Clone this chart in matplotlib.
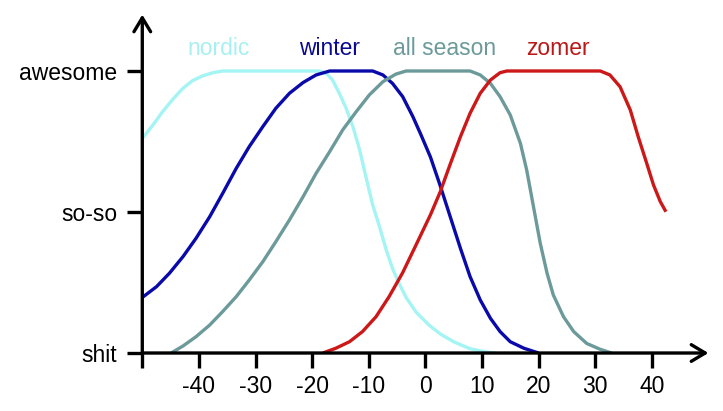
import numpy as np
import matplotlib
matplotlib.use('Agg')
import matplotlib.pyplot as plt

plt.rcParams['font.family'] = ['Liberation Sans', 'DejaVu Sans']
plt.rcParams['axes.unicode_minus'] = False

# curves (temperature, rating 0=shit .. 1=awesome)
nordic_x = [-50, -48.1, -46.4, -44.6, -42.8, -41.1, -39.3, -37.5, -35.8, -18.7, -17.5,
            -16.4, -15.2, -14.0, -12.8, -11.6, -10.5, -9.3, -8.1, -6.9, -5.8, -4.6,
            -3.4, -1.6, 0.6, 2.6, 5.0, 7.9, 10.9, 12.4]
nordic_y = [0.761, 0.809, 0.856, 0.900, 0.939, 0.966, 0.983, 0.994, 1.0, 1.0, 0.992,
            0.968, 0.921, 0.868, 0.803, 0.72, 0.625, 0.525, 0.448, 0.365, 0.300, 0.245,
            0.197, 0.144, 0.10, 0.068, 0.04, 0.015, 0.003, 0.0]

winter_x = [-50, -47.5, -45.2, -42.8, -40.5, -38.1, -35.8, -33.4, -31.1, -28.7, -26.4,
            -24.0, -21.6, -19.3, -16.9, -9.3, -7.5, -5.8, -4.0, -2.2, -0.8, 0.9, 2.6,
            4.4, 6.2, 7.9, 9.7, 11.5, 13.2, 15.0, 17.4, 20.0]
winter_y = [0.197, 0.235, 0.283, 0.342, 0.407, 0.483, 0.566, 0.655, 0.732, 0.803, 0.868,
            0.921, 0.959, 0.986, 1.0, 1.0, 0.986, 0.956, 0.909, 0.838, 0.775, 0.695, 0.595,
            0.483, 0.371, 0.271, 0.188, 0.123, 0.076, 0.040, 0.017, 0.0]

allseason_x = [-44.9, -42.8, -40.5, -38.1, -35.8, -33.4, -31.1, -28.7, -26.4, -24.0, -21.6,
               -19.3, -16.9, -14.6, -12.2, -9.9, -7.5, -5.2, -3.4, 7.9, 9.7, 11.5, 13.2,
               15.0, 16.8, 17.9, 19.1, 20.3, 21.5, 22.6, 24.4, 26.2, 28.5, 30.9, 32.9]
allseason_y = [0.0, 0.025, 0.058, 0.099, 0.147, 0.2, 0.259, 0.324, 0.395, 0.472, 0.554,
               0.637, 0.714, 0.791, 0.856, 0.915, 0.962, 0.989, 1.0, 1.0, 0.986, 0.956, 0.909,
               0.844, 0.743, 0.649, 0.519, 0.389, 0.283, 0.206, 0.129, 0.076, 0.034, 0.013, 0.0]

zomer_x = [-18.1, -15.8, -13.4, -11.1, -8.7, -6.4, -4.0, -1.6, 0.9, 2.6, 4.4, 6.2, 7.9,
           9.7, 11.5, 13.2, 14.4, 30.9, 32.6, 34.4, 36.2, 37.6, 39.1, 40.3, 41.5, 42.5]
zomer_y = [0.0, 0.017, 0.04, 0.076, 0.129, 0.2, 0.285, 0.385, 0.49, 0.57, 0.67, 0.767,
           0.85, 0.921, 0.968, 0.994, 1.0, 1.0, 0.986, 0.944, 0.862, 0.767, 0.673, 0.596,
           0.537, 0.501]

series = ['nordic', 'winter', 'all season', 'zomer']
label_x = [-36.5, -16.9, 3.35, 23.4]
colors = ['#a4f4f4', '#0a0aaa', '#6c9a9a', '#cc1818']
label_colors = ['#a8f0f0', '#0a0a90', '#6c9a9a', '#bb1818']

xticks = [-50, -40, -30, -20, -10, 0, 10, 20, 30, 40]
xticklabels = ['', '-40', '-30', '-20', '-10', '0', '10', '20', '30', '40']
yticks = [0, 0.5, 1]
yticklabels = ['shit', 'so-so', 'awesome']

fig = plt.figure(figsize=(7.23, 4.11), dpi=100)
ax = fig.add_axes([0.1968, 0.1411, 0.783, 0.8234])

data = [(nordic_x, nordic_y), (winter_x, winter_y),
        (allseason_x, allseason_y), (zomer_x, zomer_y)]
for (xs, ys), c in zip(data, colors):
    ax.plot(xs, ys, color=c, lw=2.4, solid_capstyle='butt', solid_joinstyle='round')

for name, lx, c in zip(series, label_x, label_colors):
    ax.text(lx, 1.08, name, color=c, fontsize=16.5, ha='center', va='center')

ax.set_xlim(-50, 50)
ax.set_ylim(0, 1.2)
for s in ax.spines.values():
    s.set_visible(False)

arrow = dict(arrowstyle='->, head_length=0.5, head_width=0.3', lw=2.4,
             color='black', mutation_scale=20, shrinkA=0, shrinkB=0)
ax.annotate('', xy=(50, 0), xytext=(-50, 0), arrowprops=arrow, annotation_clip=False)
ax.annotate('', xy=(-50, 1.2), xytext=(-50, 0), arrowprops=arrow, annotation_clip=False)

ax.set_xticks(xticks)
ax.set_xticklabels(xticklabels)
ax.set_yticks(yticks)
ax.set_yticklabels(yticklabels)
ax.tick_params(axis='both', direction='out', length=11, width=2.4, labelsize=16.5,
               colors='black')
ax.tick_params(axis='x', pad=5)
ax.tick_params(axis='y', pad=7)

fig.savefig('out.png', dpi=100, facecolor='white')
